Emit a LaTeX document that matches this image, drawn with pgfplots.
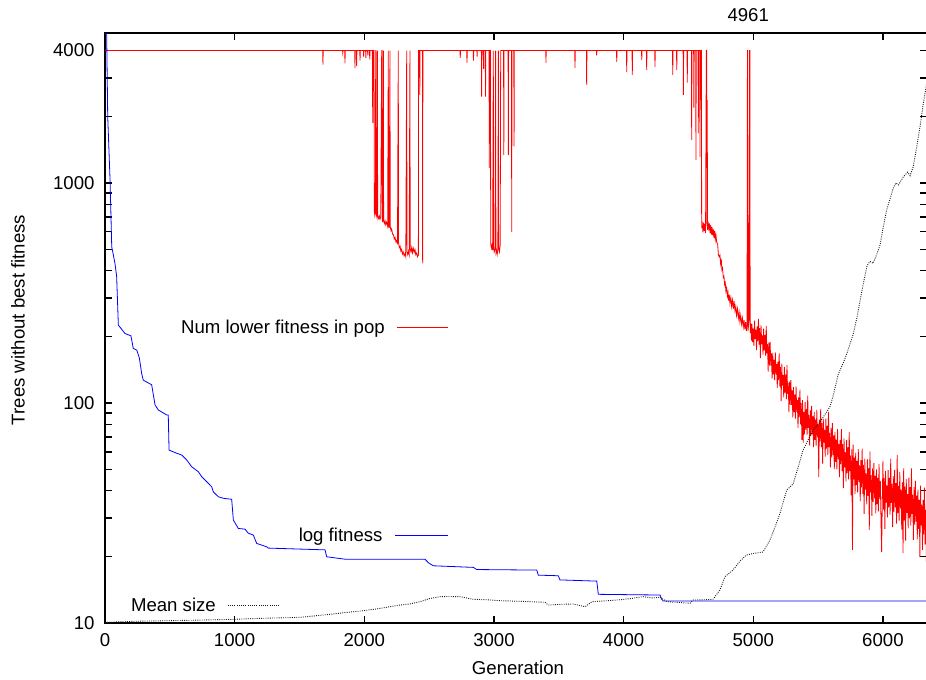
\documentclass[border=0pt]{standalone}
\usepackage{fontspec}
\setmainfont{Liberation Sans}
\usepackage{pgfplots}
\pgfplotsset{compat=1.18}

\newcommand{\chartfont}{\fontsize{18.6bp}{22bp}\selectfont}

\begin{document}
\begin{tikzpicture}[font=\chartfont]
\begin{axis}[
  at={(105bp,57bp)}, anchor=south west,
  scale only axis, width=822bp, height=590bp,
  xmin=0, xmax=6340,
  ymode=log, log basis y=10, ymin=10, ymax=4806,
  xtick={0,1000,2000,3000,4000,5000,6000},
  ytick={10,100,1000,4000}, yticklabels={10,100,1000,4000},
  minor ytick={20,30,40,50,60,70,80,90,200,300,400,500,600,700,800,900,2000,3000},
  xtick pos=both, ytick pos=both,
  xticklabel pos=left, yticklabel pos=left,
  tick align=inside,
  major tick length=7bp, minor tick length=7bp,
  tick style={black, line width=1.4bp},
  axis line style={line width=1.8bp},
  /pgf/number format/assume math mode=true,
  /pgf/number format/1000 sep={},
  ticklabel style={font=\chartfont},
  xticklabel style={yshift=-7bp},
  yticklabel style={xshift=-7bp},
  xlabel={Generation},
  ylabel={Trees without best fitness},
  xlabel style={at={(axis description cs:0.5024,-0.0763)}, anchor=center, inner sep=0pt},
  ylabel style={at={(axis description cs:-0.1058,0.5136)}, anchor=center, rotate=0, inner sep=0pt},
  after end axis/.code={
    \node[anchor=base, inner sep=0pt, yshift=11.3bp] at (axis cs:4961,4806) {4961};
  },
]

% number of trees lacking the best fitness
\addplot[red, line width=0.8bp] coordinates {
(0,4000)(1679,4000)(1681,3450)(1683,4000)(1832,4000)(1834,3900)(1836,4000)(1849,4000)(1851,3500)(1853,4000)
(1926,4000)(1928,3330)(1930,4000)(1939,4000)(1941,3400)(1943,4000)(1965,4000)(1967,3600)(1969,4000)
(1993,4000)(1995,3750)(1997,4000)(2010,4000)(2012,3700)(2014,4000)(2025,4000)(2027,3800)(2029,4000)
(2040,4000)(2042,3650)(2044,4000)
(2062,4000)(2065,1874)(2067,4000)(2075,4000)(2077,742)(2081,712)(2085,738)(2088,4000)(2090,4000)
(2092,722)(2097,700)(2101,4000)(2103,715)(2110,690)(2116,708)(2121,684)(2127,702)(2134,4000)(2136,4000)
(2138,690)(2142,662)(2147,4000)(2149,678)(2155,655)(2160,672)(2165,646)(2172,664)(2180,636)(2185,4000)
(2187,648)(2192,625)(2198,4000)(2200,635)(2206,608)(2211,618)(2218,585)(2225,582)(2231,556)(2237,565)
(2244,540)(2250,548)(2256,526)(2262,4000)(2264,535)(2270,508)(2276,516)(2282,490)(2288,500)(2294,476)
(2300,486)(2307,466)(2314,478)(2320,462)(2327,4000)(2329,488)(2335,472)(2341,490)(2346,474)(2352,4000)
(2354,500)(2360,486)(2366,510)(2372,482)(2378,505)(2385,485)(2391,498)(2397,472)(2403,480)(2410,462)
(2417,470)(2419,4000)(2426,4000)(2428,2512)(2430,4000)(2448,4000)(2450,431)(2452,4000)
(2738,4000)(2740,3700)(2742,4000)(2790,4000)(2792,3512)(2794,4000)(2840,4000)(2842,3600)(2844,4000)
(2868,4000)(2870,3750)(2872,4000)
(2903,4000)(2905,2470)(2907,4000)(2918,4000)(2920,3300)(2922,4000)(2933,4000)(2935,2470)(2937,4000)
(2962,4000)(2964,1170)(2966,4000)(2973,4000)(2975,529)(2980,505)(2985,522)(2990,496)(2995,4000)
(2997,510)(3002,486)(3008,500)(3013,4000)(3015,480)(3020,494)(3025,474)(3030,498)(3034,4000)
(3036,505)(3042,486)(3048,522)(3052,4000)(3074,4000)(3076,1341)(3078,4000)(3109,4000)(3111,1341)
(3113,4000)(3135,4000)(3137,600)(3139,4000)(3153,4000)(3155,1467)(3157,4000)
(3400,4000)(3401,3512)(3403,4000)(3623,4000)(3625,3332)(3627,4000)(3713,4000)(3715,2790)(3717,4000)
(3790,4000)(3792,3800)(3794,4000)(3945,4000)(3947,3550)(3949,4000)(4022,4000)(4024,3195)(4026,4000)
(4065,4000)(4067,3097)(4069,4000)(4138,4000)(4140,3623)(4142,4000)(4176,4000)(4178,3260)(4180,4000)
(4240,4000)(4242,3370)(4244,4000)(4377,4000)(4379,3097)(4381,4000)(4408,4000)(4410,3260)(4412,4000)
(4459,4000)(4461,2512)(4463,4000)(4489,4000)(4491,2860)(4493,4000)(4523,4000)(4525,1569)(4527,4000)
(4540,4000)(4542,2200)(4544,4000)(4556,4000)(4558,1272)(4560,4000)(4574,4000)(4576,1680)(4578,4000)
(4587,4000)(4589,1313)(4591,4000)(4595,4000)(4597,2380)(4599,4000)(4600,4000)
(4602,624)(4607,648)(4612,596)(4617,660)(4622,605)(4627,652)(4632,592)(4638,4000)(4641,4000)(4643,635)
(4645,2380)(4647,612)(4652,668)(4657,608)(4662,655)(4667,592)(4672,645)(4677,582)(4682,630)(4687,578)
(4692,615)(4697,562)(4702,605)(4707,552)(4712,580)(4718,538)(4725,528)(4731,472)(4737,462)(4743,470)
(4748,430)(4753,452)(4758,402)(4763,410)(4769,372)(4774,376)(4779,345)(4784,352)(4789,322)(4795,334)
(4800,306)(4805,318)(4810,292)(4815,310)(4820,284)(4827,302)(4833,275)(4840,294)(4846,268)(4852,290)
(4859,262)(4865,275)(4871,250)(4878,268)(4885,243)(4891,258)(4897,234)(4903,250)(4910,228)(4916,243)
(4923,222)(4929,238)(4935,216)(4941,233)(4947,212)(4952,228)(4955,4000)(4957,4000)(4959,212)(4966,232)
(4972,4000)(4974,4000)(4976,208)(4982,230)(4986,192)
(4990,228)(4995,189)(5000,218)(5005,182)(5010,237)(5015,195)(5020,215)(5025,174)(5030,223)(5035,191)
(5040,241)(5045,184)(5050,219)(5055,160)(5060,225)(5065,185)(5070,203)(5075,166)(5080,218)(5085,173)
(5090,204)(5095,164)(5100,224)(5105,168)(5110,185)(5115,139)(5120,188)(5125,148)(5130,189)(5135,148)
(5140,168)(5145,129)(5150,169)(5155,135)(5160,157)(5165,127)(5170,170)(5175,135)(5180,150)(5185,117)
(5190,154)(5195,127)(5200,168)(5205,119)(5210,146)(5215,102)(5220,151)(5225,120)(5230,134)(5235,106)
(5240,146)(5245,111)(5250,135)(5255,104)(5260,149)(5265,110)(5270,123)(5275,91)(5280,125)(5285,98)
(5290,127)(5295,98)(5300,114)(5305,86)(5310,118)(5315,91)(5320,109)(5325,85)(5330,119)(5335,91)
(5340,103)(5345,77)(5350,106)(5355,86)(5360,115)(5365,80)(5370,100)(5375,68)(5380,103)(5385,66)
(5390,91)(5395,72)(5400,101)(5405,75.5)(5410,94)(5415,71.4)(5420,108)(5425,77)(5430,88)(5435,64)
(5440,93)(5445,71)(5450,97)(5455,72)(5460,87)(5465,63)(5470,91)(5475,68)(5480,84)(5485,64)
(5490,93)(5495,70)(5500,80)(5505,46)(5510,84)(5515,67)(5520,94)(5525,63)(5530,81)(5535,53)
(5540,85)(5545,66)(5550,75.6)(5555,57)(5560,85)(5565,62)(5570,79)(5575,58)(5580,91)(5585,63)
(5590,73)(5595,51)(5600,77)(5605,56.5)(5610,81)(5615,58)(5620,71)(5625,50)(5630,74)(5635,54)
(5640,68)(5645,50)(5650,76)(5655,55.6)(5660,65)(5665,46)(5670,68)(5675,52.7)(5680,76)(5685,49)
(5690,65)(5695,41)(5700,69)(5705,51)(5710,60)(5715,44)(5720,68)(5725,48)(5730,63)(5735,45)
(5740,74)(5745,49)(5750,57.7)(5755,38)(5760,61.5)(5765,21.5)(5770,64.6)(5775,45)(5780,56.5)(5785,38.5)
(5790,59.5)(5795,42.3)(5800,54.4)(5805,39.2)(5810,61.7)(5815,43.8)(5820,52)(5825,35.7)(5830,55)(5835,41.4)
(5840,62)(5845,38.6)(5850,52.3)(5855,31.3)(5860,55.8)(5865,40.4)(5870,47.9)(5875,34.6)(5880,55.4)(5885,37.8)
(5890,50.6)(5895,26.5)(5900,60.3)(5905,39.2)(5910,47)(5915,30.7)(5920,50.4)(5925,35.5)(5930,53.3)(5935,36.9)
(5940,46.6)(5945,31.5)(5950,49.9)(5955,34.7)(5960,45.7)(5965,32.2)(5970,52.8)(5975,36.6)(5980,44.3)(5985,29.6)
(5990,21)(5995,35)(6000,54.4)(6005,32.8)(6010,45.5)(6015,26.8)(6020,49.1)(6025,35.3)(6030,42.2)(6035,30.2)
(6040,49.5)(6045,33.5)(6050,45.8)(6055,31.1)(6060,55.8)(6065,35.2)(6070,42.9)(6075,27.3)(6080,46.6)(6085,31.9)
(6090,49.7)(6095,33.5)(6100,43.2)(6105,28.3)(6110,58)(6115,31.6)(6120,42)(6125,29.2)(6130,48.6)(6135,33.2)
(6140,40.4)(6145,26.6)(6150,43.6)(6155,20.8)(6160,50.5)(6165,29.3)(6170,41.7)(6175,23.7)(6180,45.2)(6185,31.7)
(6190,38.5)(6195,26.9)(6200,45.7)(6205,29.9)(6210,41.5)(6215,27.7)(6220,50.5)(6225,31.3)(6230,38.3)(6235,23.9)
(6240,41.4)(6245,27.9)(6250,44.4)(6255,28.9)(6260,37.9)(6265,24)(6270,40.4)(6275,26.8)(6280,36.3)(6285,20)
(6290,42.1)(6295,27.8)(6300,34.5)(6305,21.5)(6310,36.3)(6315,25.3)(6320,41.2)(6325,22.8)(6330,32.7)(6335,19)(6340,32.4)
};

% best fitness so far
\addplot[blue, line width=0.8bp] coordinates {
(0,4790)(13,4700)(21,2000)(39,1032)(52,513)(77,431)(90,375)(103,226)(154,207)(200,202)
(218,177)(245,174)(265,160)(283,136)(295,127)(360,121)(386,98)(411,93)(476,88.2)(488,88.2)
(494,61.1)(553,59.1)(592,58.0)(630,55.1)(669,51.3)(720,48.7)(746,46.2)(784,43.9)(823,41.6)(835,39.5)
(874,37.5)(912,36.9)(977,36.5)(990,29.4)(1028,26.9)(1080,26.7)(1105,25.6)(1144,25.1)(1170,23.0)(1247,22.2)
(1260,21.9)(1697,21.5)(1710,20.0)(1851,19.5)(2468,19.5)(2494,18.8)(2532,18.2)(2841,17.9)(2867,17.5)(3330,17.4)
(3342,16.5)(3496,16.4)(3509,15.7)(3793,15.5)(3805,13.5)(4281,13.4)(4294,12.8)(4306,12.6)(6340,12.6)
};

% mean tree size
\addplot[black!90, line width=0.9bp, dash pattern=on 0.9bp off 1.3bp] coordinates {
(0,10.05)(129,10.14)(300,10.2)(500,10.25)(700,10.3)(987,10.39)(1200,10.5)(1504,10.61)(1600,10.75)(1759,10.99)
(1850,11.15)(1990,11.37)(2100,11.6)(2275,12.07)(2350,12.2)(2430,12.5)(2500,12.9)(2584,13.17)(2650,13.2)(2738,13.17)
(2790,13.0)(2838,12.82)(2950,12.75)(3047,12.63)(3200,12.55)(3394,12.42)(3417,12.07)(3500,12.15)(3610,12.2)(3702,11.86)
(3756,12.5)(3850,12.6)(3949,12.72)(4050,12.9)(4150,13.17)(4220,13.0)(4281,13.09)(4335,12.5)(4420,12.4)(4512,12.29)
(4535,12.72)(4620,12.75)(4690,12.82)(4743,14.13)(4782,16.24)(4844,17.41)(4900,19.2)(4949,20.38)(5000,20.7)(5075,21.02)
(5129,23.84)(5170,27.5)(5206,31.52)(5258,40.23)(5307,42.8)(5350,52)(5384,61.1)(5461,75.4)(5515,81.9)(5592,96.2)
(5620,110)(5654,134.1)(5700,155)(5723,168.8)(5769,203.7)(5800,245)(5839,326.3)(5877,419.6)(5900,440)(5924,431.5)
(5950,470)(5978,522.7)(6000,620)(6029,754)(6080,948.6)(6100,1000)(6120,980)(6157,1065)(6190,1120)(6210,1080)
(6234,1186)(6261,1462)(6286,1803)(6312,2303)(6340,2900)
};
\end{axis}

% key entries
\node[anchor=base east, inner sep=0pt] at (385bp,346bp) {Num lower fitness in pop};
\draw[red, line width=0.8bp] (396.7bp,352.3bp) -- (448.3bp,352.3bp);
\node[anchor=base east, inner sep=0pt] at (382.7bp,138.3bp) {log fitness};
\draw[blue, line width=0.8bp] (395bp,145bp) -- (447.7bp,145bp);
\node[anchor=base east, inner sep=0pt] at (216bp,68.3bp) {Mean size};
\draw[black!90, line width=0.9bp, dash pattern=on 0.9bp off 1.3bp] (227.7bp,75bp) -- (279.3bp,75bp);

\pgfresetboundingbox
\path (0,0) rectangle (926bp,680bp);
\end{tikzpicture}
\end{document}
